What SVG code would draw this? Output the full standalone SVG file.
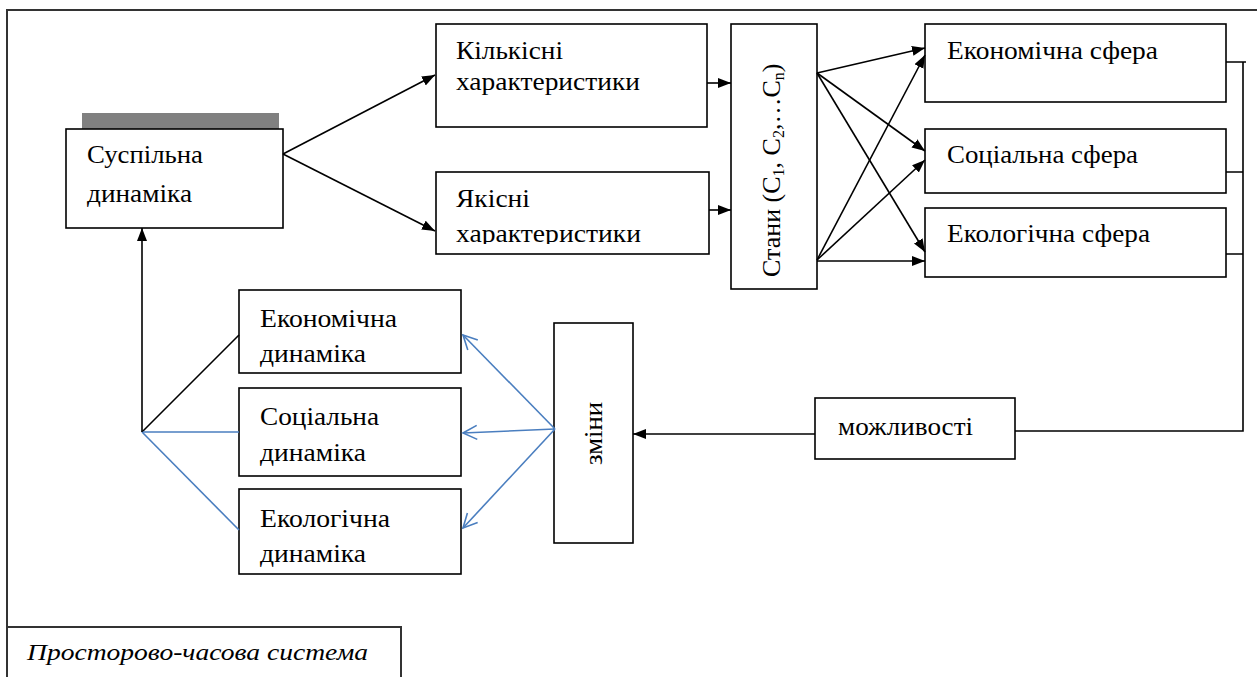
<svg xmlns="http://www.w3.org/2000/svg" width="1257" height="677" viewBox="0 0 1257 677" xml:lang="uk">
  <defs>
    <marker id="arr" markerUnits="userSpaceOnUse" markerWidth="14" markerHeight="12" refX="13" refY="5" orient="auto">
      <path d="M0,0 L13,5 L0,10 z" fill="#000000" stroke="none"/>
    </marker>
    <marker id="open" markerUnits="userSpaceOnUse" markerWidth="18" markerHeight="18" refX="15" refY="8" orient="auto">
      <path d="M1,1 L15,8 L1,15" fill="none" stroke="#4a7ebf" stroke-width="1.6"/>
    </marker>
    <!-- the second line of the qualitative box is cut just below its baseline -->
    <clipPath id="cutLine">
      <rect x="436" y="172" width="273" height="72"/>
    </clipPath>
  </defs>

  <rect width="1257" height="677" fill="#ffffff"/>

  <!-- outer frame of the space-time system -->
  <g id="frame" fill="none" stroke="#333333" stroke-width="2">
    <path d="M7,677 L7,10 L1257,10"/>
  </g>

  <g id="nodes" font-family="'Liberation Serif', serif" font-size="26" fill="#000000">

    <g id="states">
      <rect x="731" y="24" width="86" height="265" fill="#ffffff" stroke="#000000" stroke-width="1.6"/>
      <text transform="translate(780,277) rotate(-90)" x="0" y="0">Стани (C<tspan font-size="16" dy="4">1</tspan><tspan dy="-4">, C</tspan><tspan font-size="16" dy="4">2</tspan><tspan dy="-4">,…C</tspan><tspan font-size="16" dy="4">n</tspan><tspan dy="-4">)</tspan></text>
    </g>

    <g id="social-dynamics">
      <rect x="82" y="113" width="197" height="16" fill="#808080"/>
      <rect x="66" y="129" width="217" height="99" fill="#ffffff" stroke="#000000" stroke-width="1.6"/>
      <text x="87" y="163" textLength="116" lengthAdjust="spacingAndGlyphs">Суспільна</text>
      <text x="87" y="202" textLength="105" lengthAdjust="spacingAndGlyphs">динаміка</text>
    </g>

    <g id="quantitative">
      <rect x="436" y="24" width="271" height="103" fill="#ffffff" stroke="#000000" stroke-width="1.6"/>
      <text x="456" y="59" textLength="107" lengthAdjust="spacingAndGlyphs">Кількісні</text>
      <text x="456" y="90" textLength="184" lengthAdjust="spacingAndGlyphs">характеристики</text>
    </g>

    <g id="qualitative">
      <rect x="436" y="172" width="273" height="82" fill="#ffffff" stroke="#000000" stroke-width="1.6"/>
      <text x="456" y="207" textLength="74" lengthAdjust="spacingAndGlyphs">Якісні</text>
      <text x="456" y="242" textLength="185" lengthAdjust="spacingAndGlyphs" clip-path="url(#cutLine)">характеристики</text>
    </g>

    <g id="economic-sphere">
      <rect x="925" y="24" width="301" height="78" fill="#ffffff" stroke="#000000" stroke-width="1.6"/>
      <text x="947" y="59" textLength="211" lengthAdjust="spacingAndGlyphs">Економічна сфера</text>
    </g>

    <g id="social-sphere">
      <rect x="925" y="129" width="301" height="64" fill="#ffffff" stroke="#000000" stroke-width="1.6"/>
      <text x="947" y="163" textLength="191" lengthAdjust="spacingAndGlyphs">Соціальна сфера</text>
    </g>

    <g id="ecological-sphere">
      <rect x="925" y="208" width="301" height="69" fill="#ffffff" stroke="#000000" stroke-width="1.6"/>
      <text x="947" y="242" textLength="203" lengthAdjust="spacingAndGlyphs">Екологічна сфера</text>
    </g>

    <g id="economic-dynamics">
      <rect x="239" y="290" width="222" height="83" fill="#ffffff" stroke="#000000" stroke-width="1.6"/>
      <text x="260" y="327" textLength="137" lengthAdjust="spacingAndGlyphs">Економічна</text>
      <text x="260" y="362" textLength="106" lengthAdjust="spacingAndGlyphs">динаміка</text>
    </g>

    <g id="social-dynamics-2">
      <rect x="239" y="388" width="222" height="88" fill="#ffffff" stroke="#000000" stroke-width="1.6"/>
      <text x="260" y="425" textLength="119" lengthAdjust="spacingAndGlyphs">Соціальна</text>
      <text x="260" y="461" textLength="106" lengthAdjust="spacingAndGlyphs">динаміка</text>
    </g>

    <g id="ecological-dynamics">
      <rect x="239" y="489" width="222" height="85" fill="#ffffff" stroke="#000000" stroke-width="1.6"/>
      <text x="260" y="527" textLength="130" lengthAdjust="spacingAndGlyphs">Екологічна</text>
      <text x="260" y="562" textLength="106" lengthAdjust="spacingAndGlyphs">динаміка</text>
    </g>

    <g id="changes">
      <rect x="554" y="323" width="79" height="220" fill="#ffffff" stroke="#000000" stroke-width="1.6"/>
      <text transform="translate(602,465) rotate(-90)" x="0" y="0" textLength="63" lengthAdjust="spacingAndGlyphs">зміни</text>
    </g>

    <g id="possibilities">
      <rect x="815" y="398" width="200" height="61" fill="#ffffff" stroke="#000000" stroke-width="1.6"/>
      <text x="838" y="435" textLength="135" lengthAdjust="spacingAndGlyphs">можливості</text>
    </g>

    <g id="system-label">
      <rect x="7" y="627" width="394" height="60" fill="none" stroke="#333333" stroke-width="2"/>
      <text x="27" y="660" font-size="24" font-style="italic" textLength="341" lengthAdjust="spacingAndGlyphs">Просторово-часова система</text>
    </g>
  </g>

  <g id="connectors" fill="none" stroke="#000000" stroke-width="1.6">
    <!-- social dynamics to characteristics -->
    <line x1="283" y1="154" x2="435" y2="75" marker-end="url(#arr)"/>
    <line x1="283" y1="154" x2="435" y2="231" marker-end="url(#arr)"/>
    <!-- characteristics to states -->
    <line x1="707" y1="83" x2="731" y2="83" marker-end="url(#arr)"/>
    <line x1="709" y1="210" x2="731" y2="210" marker-end="url(#arr)"/>
    <!-- states to spheres -->
    <line x1="817" y1="73" x2="925" y2="48" marker-end="url(#arr)"/>
    <line x1="817" y1="73" x2="925" y2="151" marker-end="url(#arr)"/>
    <line x1="817" y1="73" x2="925" y2="252" marker-end="url(#arr)"/>
    <line x1="817" y1="260" x2="925" y2="55" marker-end="url(#arr)"/>
    <line x1="817" y1="260" x2="925" y2="160" marker-end="url(#arr)"/>
    <line x1="817" y1="261" x2="925" y2="261" marker-end="url(#arr)"/>
    <!-- spheres bracket back to possibilities -->
    <path d="M1226,62 L1246,62 M1226,172 L1243,172 M1226,254 L1243,254 M1243,62 L1243,431 L1015,431"/>
    <!-- possibilities to changes -->
    <line x1="815" y1="434" x2="633" y2="434" marker-end="url(#arr)"/>
    <!-- changes to the three dynamics -->
    <g stroke="#4a7ebf">
      <line x1="555" y1="429" x2="463" y2="335" marker-end="url(#open)"/>
      <line x1="555" y1="429" x2="463" y2="433" marker-end="url(#open)"/>
      <line x1="555" y1="429" x2="463" y2="528" marker-end="url(#open)"/>
    </g>
    <!-- dynamics joining into social dynamics -->
    <line x1="142" y1="432" x2="239" y2="335"/>
    <g stroke="#4a7ebf">
      <line x1="142" y1="432" x2="239" y2="432"/>
      <line x1="142" y1="432" x2="239" y2="530"/>
    </g>
    <line x1="142" y1="432" x2="142" y2="228" marker-end="url(#arr)"/>
  </g>
</svg>
